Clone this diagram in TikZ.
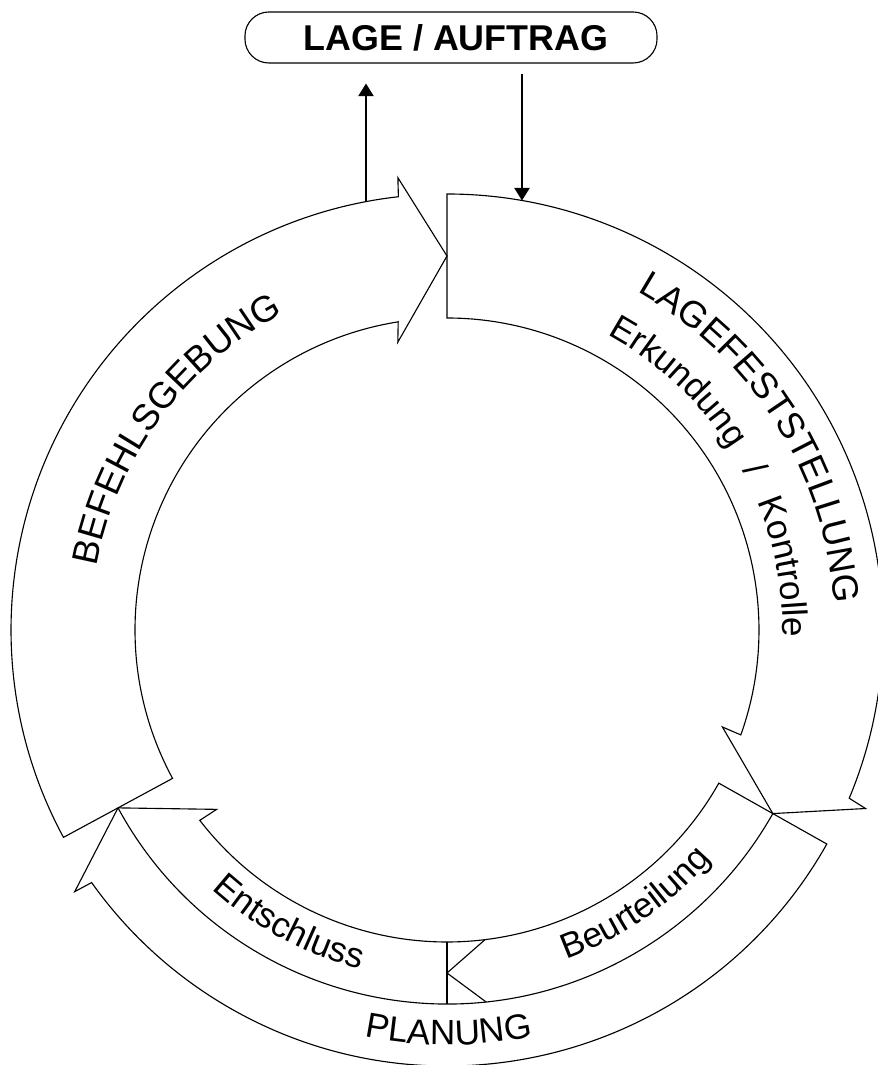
\documentclass[tikz,border=0pt]{standalone}
\usepackage{fontspec}
\setmainfont{Liberation Sans}
\usetikzlibrary{positioning}
\usetikzlibrary{arrows.meta}
\usetikzlibrary{decorations.text}

\newcommand\capsfont{\fontsize{26}{31}\selectfont}
\newcommand\smallfont{\fontsize{25}{30}\selectfont}

\begin{document}
\begin{tikzpicture}[
  edge/.style = {line width=0.8pt, line join=miter},
  ringtext/.style = {decorate, decoration={text along path, text align=center, text={#1}}},
  box/.style = {draw, line width=0.8pt, rounded corners=0.6cm, minimum width=10.3cm,
    minimum height=1.275cm, inner sep=0pt, font=\bfseries\fontsize{25.5}{30}\selectfont},
  >={Triangle[length=9pt,width=11pt]},
  x=0.025cm, y=0.025cm
]

  \useasboundingbox (-447,-435) rectangle (430,630);

  \node[box] (lage) at (4,592.5) {\hspace{0.25cm}LAGE / AUFTRAG};

  % LAGEFESTSTELLUNG
  \draw[edge] (90:436) arc[start angle=90, end angle=-22.7, radius=436]
    -- (-23.1:455) -- (-29.4:374) -- (-19.4:292) -- (-19.65:312)
    arc[start angle=-19.65, end angle=90, radius=312] -- cycle;

  % BEFEHLSGEBUNG
  \draw[edge] (208.4:436) arc[start angle=208.4, end angle=96.4, radius=436]
    -- (96.2:455) -- (90:374) -- (99.7:292) -- (99:312)
    arc[start angle=99, end angle=208.4, radius=312] -- cycle;

  % PLANUNG
  \draw[edge] (-29.4:312) -- (-29.4:436) arc[start angle=-29.4, end angle=-144.6, radius=436]
    -- (-144.9:455) -- (-151.6:374) -- (-142.1:292) -- (-142.4:312)
    arc[start angle=-142.4, end angle=-29.4, radius=312] -- cycle;

  % Beurteilung / Entschluss
  \draw[edge] (-151.6:374) arc[start angle=-151.6, end angle=-29.4, radius=374];
  \draw[edge] (-90:312) -- (-90:374);
  \draw[edge] (-83:312) -- (-90:343) -- (-84:374);

  % connectors to the box
  \coordinate (out) at (-81,428.4);
  \coordinate (in) at (75,429.5);
  \draw[edge,->,shorten >=0.5cm] (out) -- (out |- lage.south);
  \draw[edge,->,shorten <=0.25cm] (in |- lage.south) -- (in);

  % texts
  \path[ringtext={|\capsfont|BEFEHLSGEBUNG}]
    (183.5:356) arc[start angle=183.5, end angle=103.5, radius=356];
  \path[ringtext={|\capsfont|LAGEFESTSTELLUNG}]
    (72.3:388) arc[start angle=72.3, end angle=-7.7, radius=388];
  \path[decorate, decoration={text along path, text align={fit to path stretching spaces},
      text={|\smallfont|Erkundung / Kontrolle}}]
    (61.5:336) arc[start angle=61.5, end angle=-1.2, radius=336];
  \path[ringtext={|\smallfont|Beurteilung}]
    (264.5:350) arc[start angle=264.5, end angle=344.5, radius=350];
  \path[ringtext={|\smallfont|Entschluss}]
    (201.7:350) arc[start angle=201.7, end angle=281.7, radius=350];
  \path[ringtext={|\smallfont|PLANUNG}]
    (230.2:415) arc[start angle=230.2, end angle=310.2, radius=415];

\end{tikzpicture}
\end{document}
